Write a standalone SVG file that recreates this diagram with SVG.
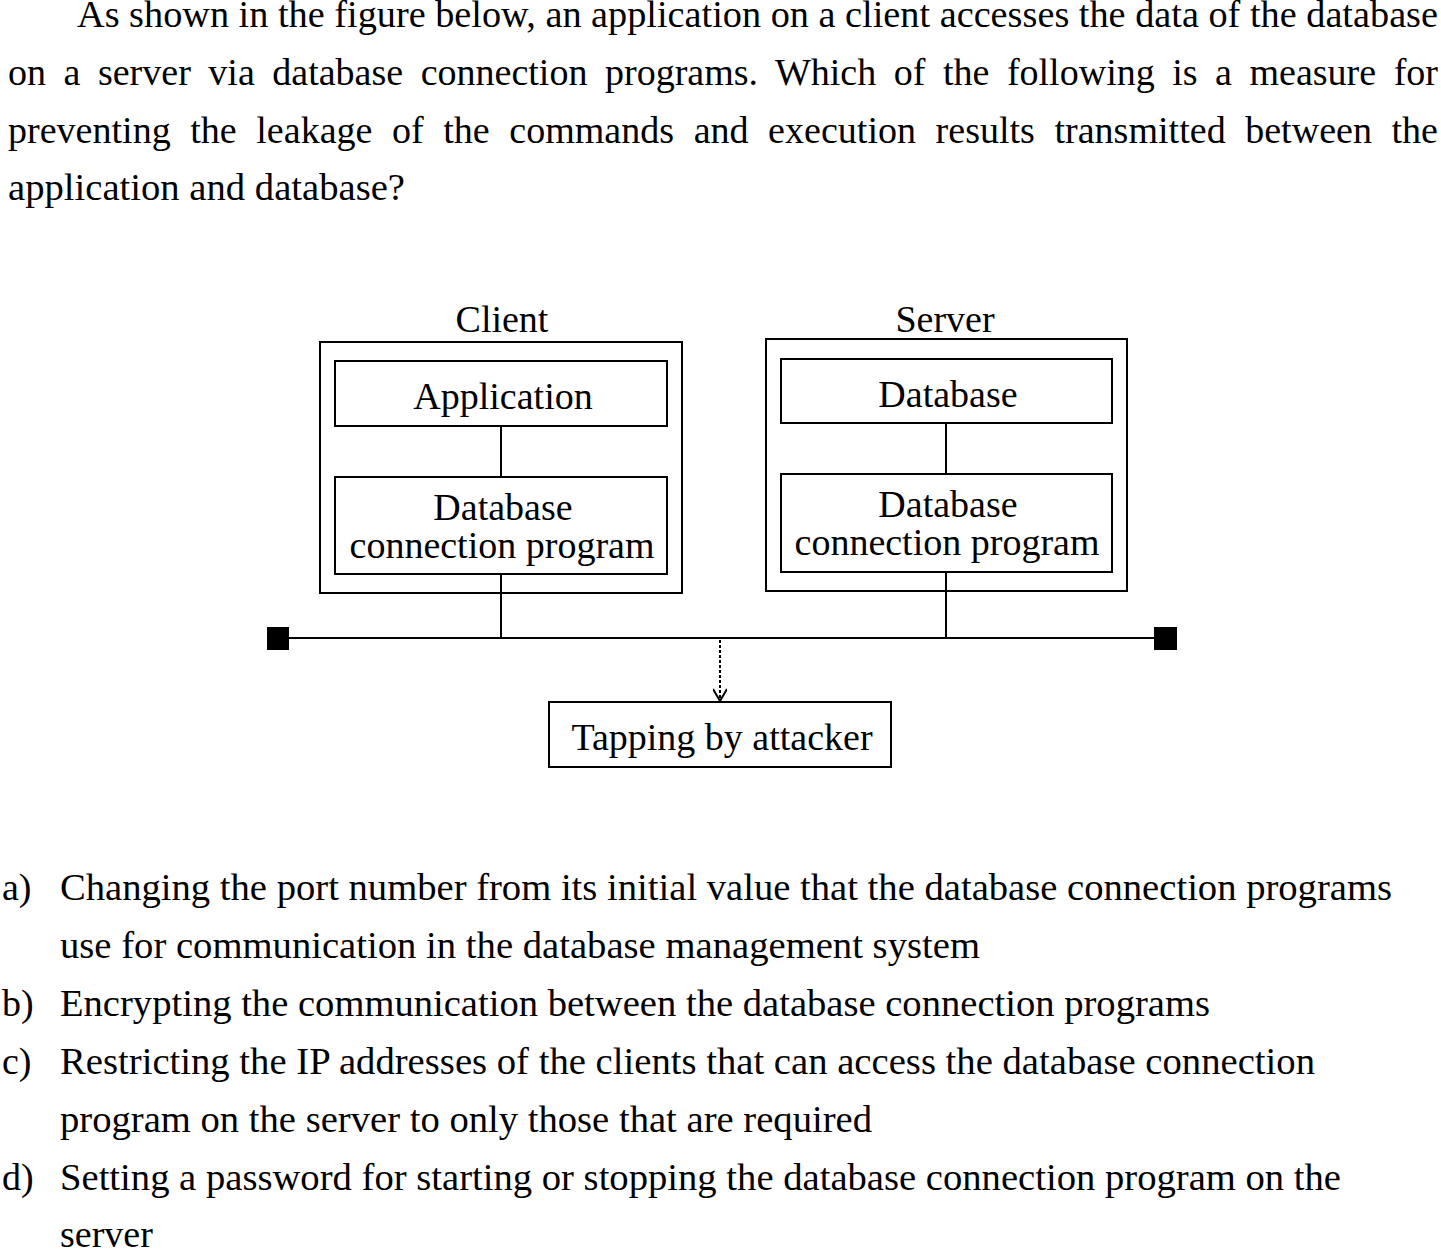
<svg xmlns="http://www.w3.org/2000/svg" width="1441" height="1250" viewBox="0 0 1441 1250">
<defs>
<style>
.t{font-family:"Liberation Serif","Times New Roman",serif;font-size:38px;fill:#000}
.c{text-anchor:middle}
.box{fill:#fff;stroke:#000;stroke-width:2}
.frame{fill:none;stroke:#000;stroke-width:2}
.ln{fill:none;stroke:#000;stroke-width:2}
.dash{fill:none;stroke:#000;stroke-width:2;stroke-dasharray:3 2}
</style>
<marker id="vee" viewBox="0 0 14 14" refX="13" refY="7" markerWidth="14" markerHeight="14" markerUnits="userSpaceOnUse" orient="auto">
<path d="M1,0 L13,7 L1,14" fill="none" stroke="#000" stroke-width="2"/>
</marker>
</defs>
<rect width="1441" height="1250" fill="#fff"/>
<g id="question">
<text class="t" x="77" y="27" textLength="1361" lengthAdjust="spacingAndGlyphs">As shown in the figure below, an application on a client accesses the data of the database</text>
<text class="t" x="8" y="85" word-spacing="8" textLength="1430" lengthAdjust="spacingAndGlyphs">on a server via database connection programs. Which of the following is a measure for</text>
<text class="t" x="8" y="143" word-spacing="10" textLength="1430" lengthAdjust="spacingAndGlyphs">preventing the leakage of the commands and execution results transmitted between the</text>
<text class="t" x="8" y="200" textLength="397" lengthAdjust="spacingAndGlyphs">application and database?</text>
</g>
<g id="connectors">
<line class="ln" x1="501" y1="426" x2="501" y2="477"/>
<line class="ln" x1="501" y1="574" x2="501" y2="638"/>
<line class="ln" x1="946" y1="423" x2="946" y2="474"/>
<line class="ln" x1="946" y1="572" x2="946" y2="638"/>
<line class="ln" x1="289" y1="638" x2="1154" y2="638"/>
<line class="dash" x1="720" y1="640" x2="720" y2="701" marker-end="url(#vee)"/>
</g>
<g id="bus-end-left"><rect x="267" y="627" width="22" height="23" fill="#000"/></g>
<g id="bus-end-right"><rect x="1154" y="627" width="23" height="23" fill="#000"/></g>
<g id="client">
<text class="t c" x="502" y="332">Client</text>
<rect class="frame" x="320" y="342" width="362" height="251"/>
</g>
<g id="client-application">
<rect class="box" x="335" y="361" width="332" height="65"/>
<text class="t c" x="503" y="409">Application</text>
</g>
<g id="client-dbconn">
<rect class="box" x="335" y="477" width="332" height="97"/>
<text class="t c" x="503" y="520">Database</text>
<text class="t c" x="502" y="558">connection program</text>
</g>
<g id="server">
<text class="t c" x="945" y="332">Server</text>
<rect class="frame" x="766" y="339" width="361" height="252"/>
</g>
<g id="server-database">
<rect class="box" x="781" y="359" width="331" height="64"/>
<text class="t c" x="948" y="407">Database</text>
</g>
<g id="server-dbconn">
<rect class="box" x="781" y="474" width="331" height="98"/>
<text class="t c" x="948" y="517">Database</text>
<text class="t c" x="947" y="555">connection program</text>
</g>
<g id="tapping">
<rect class="box" x="549" y="702" width="342" height="65"/>
<text class="t c" x="722" y="750">Tapping by attacker</text>
</g>
<g id="options">
<text class="t" x="2" y="900">a)</text>
<text class="t" x="60" y="900" textLength="1332" lengthAdjust="spacingAndGlyphs">Changing the port number from its initial value that the database connection programs</text>
<text class="t" x="60" y="958" textLength="920" lengthAdjust="spacingAndGlyphs">use for communication in the database management system</text>
<text class="t" x="2" y="1016">b)</text>
<text class="t" x="60" y="1016" textLength="1150" lengthAdjust="spacingAndGlyphs">Encrypting the communication between the database connection programs</text>
<text class="t" x="2" y="1074">c)</text>
<text class="t" x="60" y="1074" textLength="1255" lengthAdjust="spacingAndGlyphs">Restricting the IP addresses of the clients that can access the database connection</text>
<text class="t" x="60" y="1132" textLength="812" lengthAdjust="spacingAndGlyphs">program on the server to only those that are required</text>
<text class="t" x="2" y="1190">d)</text>
<text class="t" x="60" y="1190" textLength="1281" lengthAdjust="spacingAndGlyphs">Setting a password for starting or stopping the database connection program on the</text>
<text class="t" x="60" y="1247">server</text>
</g>
</svg>
